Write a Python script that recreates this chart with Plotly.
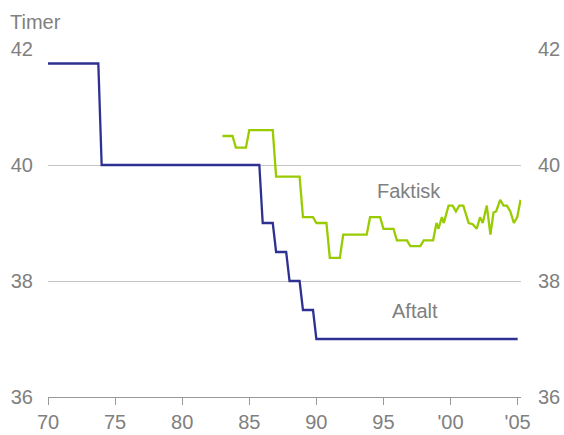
import plotly.graph_objects as go

# Agreed (Aftalt) weekly hours
aftalt_years = [1970.0, 1973.75, 1974.0, 1985.75, 1986.0, 1986.75, 1987.0, 1987.75,
                1988.0, 1988.75, 1989.0, 1989.75, 1990.0, 2005.0]
aftalt_hours = [41.75, 41.75, 40.0, 40.0, 39.0, 39.0, 38.5, 38.5,
                38.0, 38.0, 37.5, 37.5, 37.0, 37.0]

# Actual (Faktisk) weekly hours
faktisk_years = [1983.0, 1983.75, 1984.0, 1984.75, 1985.0, 1986.75, 1987.0, 1988.75,
                 1989.0, 1989.75, 1990.0, 1990.75, 1991.0, 1991.75, 1992.0, 1993.75,
                 1994.0, 1994.75, 1995.0, 1995.75, 1996.0, 1996.75, 1997.0, 1997.75,
                 1998.0, 1998.7, 1998.95, 1999.1, 1999.35, 1999.5, 1999.85, 2000.15,
                 2000.4, 2000.65, 2000.95, 2001.35, 2001.65, 2001.95, 2002.2, 2002.4,
                 2002.7, 2002.97, 2003.2, 2003.4, 2003.7, 2003.95, 2004.2, 2004.45,
                 2004.72, 2004.97, 2005.22]
faktisk_hours = [40.5, 40.5, 40.3, 40.3, 40.6, 40.6, 39.8, 39.8,
                 39.1, 39.1, 39.0, 39.0, 38.4, 38.4, 38.8, 38.8,
                 39.1, 39.1, 38.9, 38.9, 38.7, 38.7, 38.6, 38.6,
                 38.7, 38.7, 39.0, 38.9, 39.1, 39.0, 39.3, 39.3,
                 39.2, 39.3, 39.3, 39.0, 38.98, 38.9, 39.1, 39.0,
                 39.3, 38.8, 39.18, 39.2, 39.4, 39.3, 39.3, 39.2,
                 39.0, 39.1, 39.4]

x_tickvals = [1970, 1975, 1980, 1985, 1990, 1995, 2000, 2005]
x_ticktext = ["70", "75", "80", "85", "90", "95", "'00", "'05"]
y_tickvals = [36, 38, 40, 42]

BLUE = "#2e3192"
GREEN = "#99cc00"
GRAY = "#808080"
FONT = "Arial, Liberation Sans, Helvetica, sans-serif"

fig = go.Figure()
fig.add_trace(go.Scatter(x=aftalt_years, y=aftalt_hours, mode="lines",
                         line=dict(color=BLUE, width=2.3), name="Aftalt",
                         showlegend=False))
fig.add_trace(go.Scatter(x=faktisk_years, y=faktisk_hours, mode="lines",
                         line=dict(color=GREEN, width=2.3), name="Faktisk",
                         showlegend=False))
# invisible trace to activate the right axis
fig.add_trace(go.Scatter(x=[1970], y=[36], yaxis="y2", mode="markers",
                         marker=dict(opacity=0), showlegend=False, hoverinfo="skip"))

fig.update_layout(
    width=564, height=435,
    margin=dict(l=48, r=43, t=49, b=38),
    paper_bgcolor="white", plot_bgcolor="white",
    font=dict(family=FONT, size=20, color=GRAY),
    xaxis=dict(range=[1970, 2005.25], tickvals=x_tickvals, ticktext=x_ticktext,
               showgrid=False, zeroline=False, showline=True, linecolor="#999999",
               linewidth=1, ticks="outside", ticklen=7, tickcolor="#999999",
               automargin=False, tickfont=dict(size=20, color=GRAY)),
    yaxis=dict(range=[36, 42], tickvals=y_tickvals, showgrid=True,
               gridcolor="#c4c4c4", gridwidth=1, zeroline=False, showline=False,
               ticks="", ticklabelstandoff=14, automargin=False,
               tickfont=dict(size=20, color=GRAY)),
    yaxis2=dict(range=[36, 42], tickvals=y_tickvals, overlaying="y", side="right",
                showgrid=False, zeroline=False, showline=False, ticks="",
                ticklabelstandoff=16, automargin=False,
                tickfont=dict(size=20, color=GRAY)),
    annotations=[
        dict(text="Timer", xref="paper", yref="paper", x=-0.085, y=1.077,
             xanchor="left", yanchor="middle", showarrow=False,
             font=dict(size=20, color=GRAY)),
        dict(text="Faktisk", x=1996.9, y=39.56, xref="x", yref="y",
             showarrow=False, font=dict(size=20, color=GRAY)),
        dict(text="Aftalt", x=1997.35, y=37.48, xref="x", yref="y",
             showarrow=False, font=dict(size=20, color=GRAY)),
    ],
)

fig.write_html("out.html", config={"displayModeBar": False},
               post_script="document.body.style.margin='0';")
